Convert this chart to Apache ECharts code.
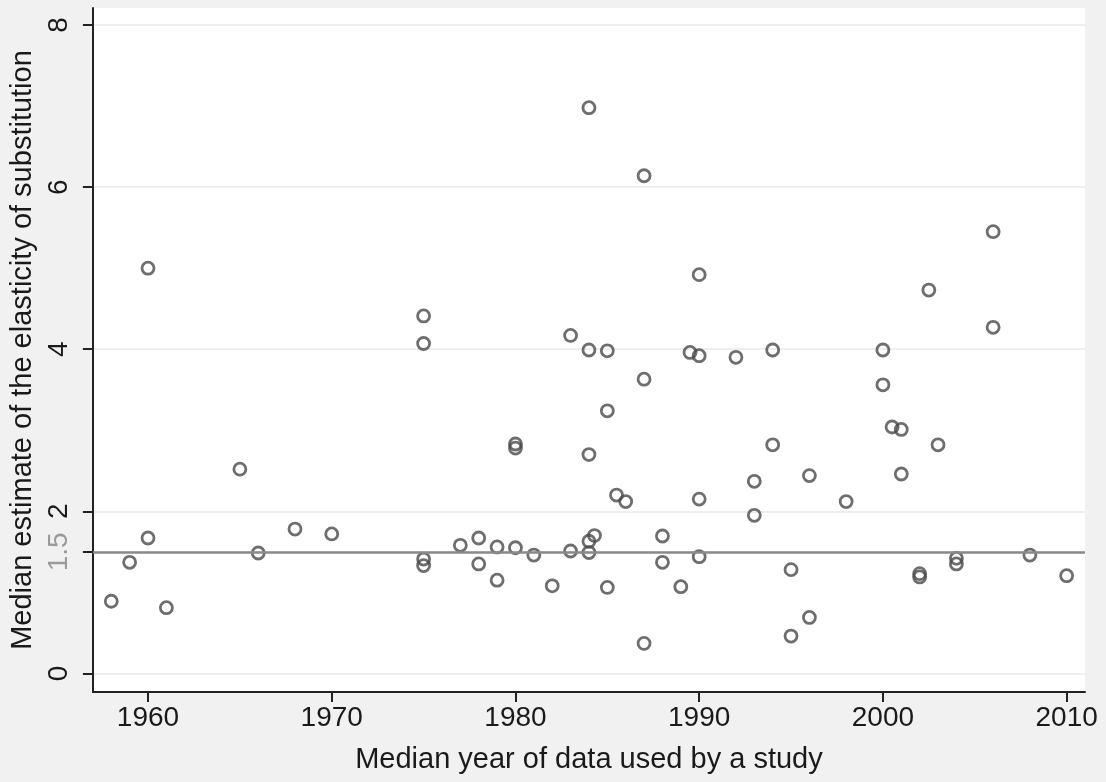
<!DOCTYPE html>
<html>
<head>
<meta charset="utf-8">
<script src="https://cdn.jsdelivr.net/npm/echarts@6/dist/echarts.min.js"></script>
<style>
  html, body { margin: 0; padding: 0; background: #f1f1f1; }
  #chart { width: 1106px; height: 782px; }
</style>
</head>
<body>
<div id="chart"></div>
<script>
// median year of data used by each study
var years = [
  1958, 1959, 1960, 1960, 1961, 1965, 1966, 1968, 1970,
  1975, 1975, 1975, 1975, 1977, 1978, 1978, 1979, 1979,
  1980, 1980, 1980, 1981, 1982, 1983, 1983,
  1984, 1984, 1984, 1984, 1984, 1984.3,
  1985, 1985, 1985, 1985.5, 1986, 1987, 1987, 1987,
  1988, 1988, 1989, 1989.5, 1990, 1990, 1990, 1990,
  1992, 1993, 1993, 1994, 1994, 1995, 1995, 1996, 1996, 1998,
  2000, 2000, 2000.5, 2001, 2001, 2002, 2002, 2002.5, 2003,
  2004, 2004, 2006, 2006, 2008, 2010
];
// median estimate of the elasticity of substitution
var estimates = [
  0.89, 1.37, 1.67, 5.00, 0.81, 2.52, 1.485, 1.78, 1.72,
  4.41, 4.07, 1.41, 1.33, 1.58, 1.67, 1.35, 1.56, 1.15,
  2.83, 2.78, 1.55, 1.46, 1.08, 4.17, 1.51,
  6.98, 3.99, 2.70, 1.63, 1.49, 1.70,
  3.98, 3.24, 1.06, 2.20, 2.12, 6.14, 3.63, 0.37,
  1.695, 1.37, 1.07, 3.96, 4.92, 3.92, 2.15, 1.44,
  3.90, 2.37, 1.95, 3.99, 2.82, 1.28, 0.46, 2.44, 0.69, 2.12,
  3.99, 3.56, 3.04, 3.01, 2.46, 1.23, 1.19, 4.73, 2.82,
  1.42, 1.35, 5.45, 4.27, 1.46, 1.205
];
var xTicks = [1960, 1970, 1980, 1990, 2000, 2010];
var yTicks = [0, 1.5, 2, 4, 6, 8];
var refLine = 1.5;

var points = years.map(function (y, i) { return [y, estimates[i]]; });

var chart = echarts.init(document.getElementById('chart'));
var font = 'Liberation Sans, Arial, sans-serif';
chart.setOption({
  backgroundColor: '#f1f1f1',
  animation: false,
  grid: {
    left: 92, right: 21, top: 8, bottom: 90,
    show: true, backgroundColor: '#ffffff', borderWidth: 0
  },
  xAxis: {
    type: 'value',
    min: 1957, max: 2011,
    name: 'Median year of data used by a study',
    nameLocation: 'middle',
    nameGap: 53,
    nameTextStyle: { fontFamily: font, fontSize: 29, color: '#1a1a1a' },
    axisLine: { show: true, onZero: false, lineStyle: { color: '#222', width: 2 } },
    axisTick: { show: true, length: 10, customValues: xTicks, lineStyle: { color: '#222', width: 2 } },
    axisLabel: {
      customValues: xTicks, margin: 12, fontFamily: font, fontSize: 28, color: '#1a1a1a',
      formatter: function (v) { return String(v); }
    },
    splitLine: { show: false }
  },
  yAxis: {
    type: 'value',
    min: -0.23, max: 8.21,
    name: 'Median estimate of the elasticity of substitution',
    nameLocation: 'middle',
    nameGap: 52,
    nameTextStyle: { fontFamily: font, fontSize: 29, color: '#1a1a1a' },
    axisLine: { show: true, onZero: false, lineStyle: { color: '#222', width: 2 } },
    axisTick: { show: true, length: 10, customValues: yTicks, lineStyle: { color: '#222', width: 2 } },
    axisLabel: {
      customValues: yTicks,
      rotate: 90,
      margin: 20,
      fontFamily: font, fontSize: 28,
      color: function (v) { return v == refLine ? '#9a9a9a' : '#1a1a1a'; }
    },
    splitLine: { show: true, lineStyle: { color: '#eeeeee', width: 2 } }
  },
  series: [{
    type: 'scatter',
    data: points,
    symbol: 'circle',
    symbolSize: 12,
    itemStyle: { color: 'rgba(0,0,0,0)', borderColor: '#4a4a4a', borderWidth: 2.8 },
    markLine: {
      silent: true,
      symbol: 'none',
      label: { show: false },
      lineStyle: { color: '#8a8a8a', width: 2.5, type: 'solid' },
      data: [{ yAxis: refLine }]
    },
    z: 3
  }]
});
</script>
</body>
</html>
